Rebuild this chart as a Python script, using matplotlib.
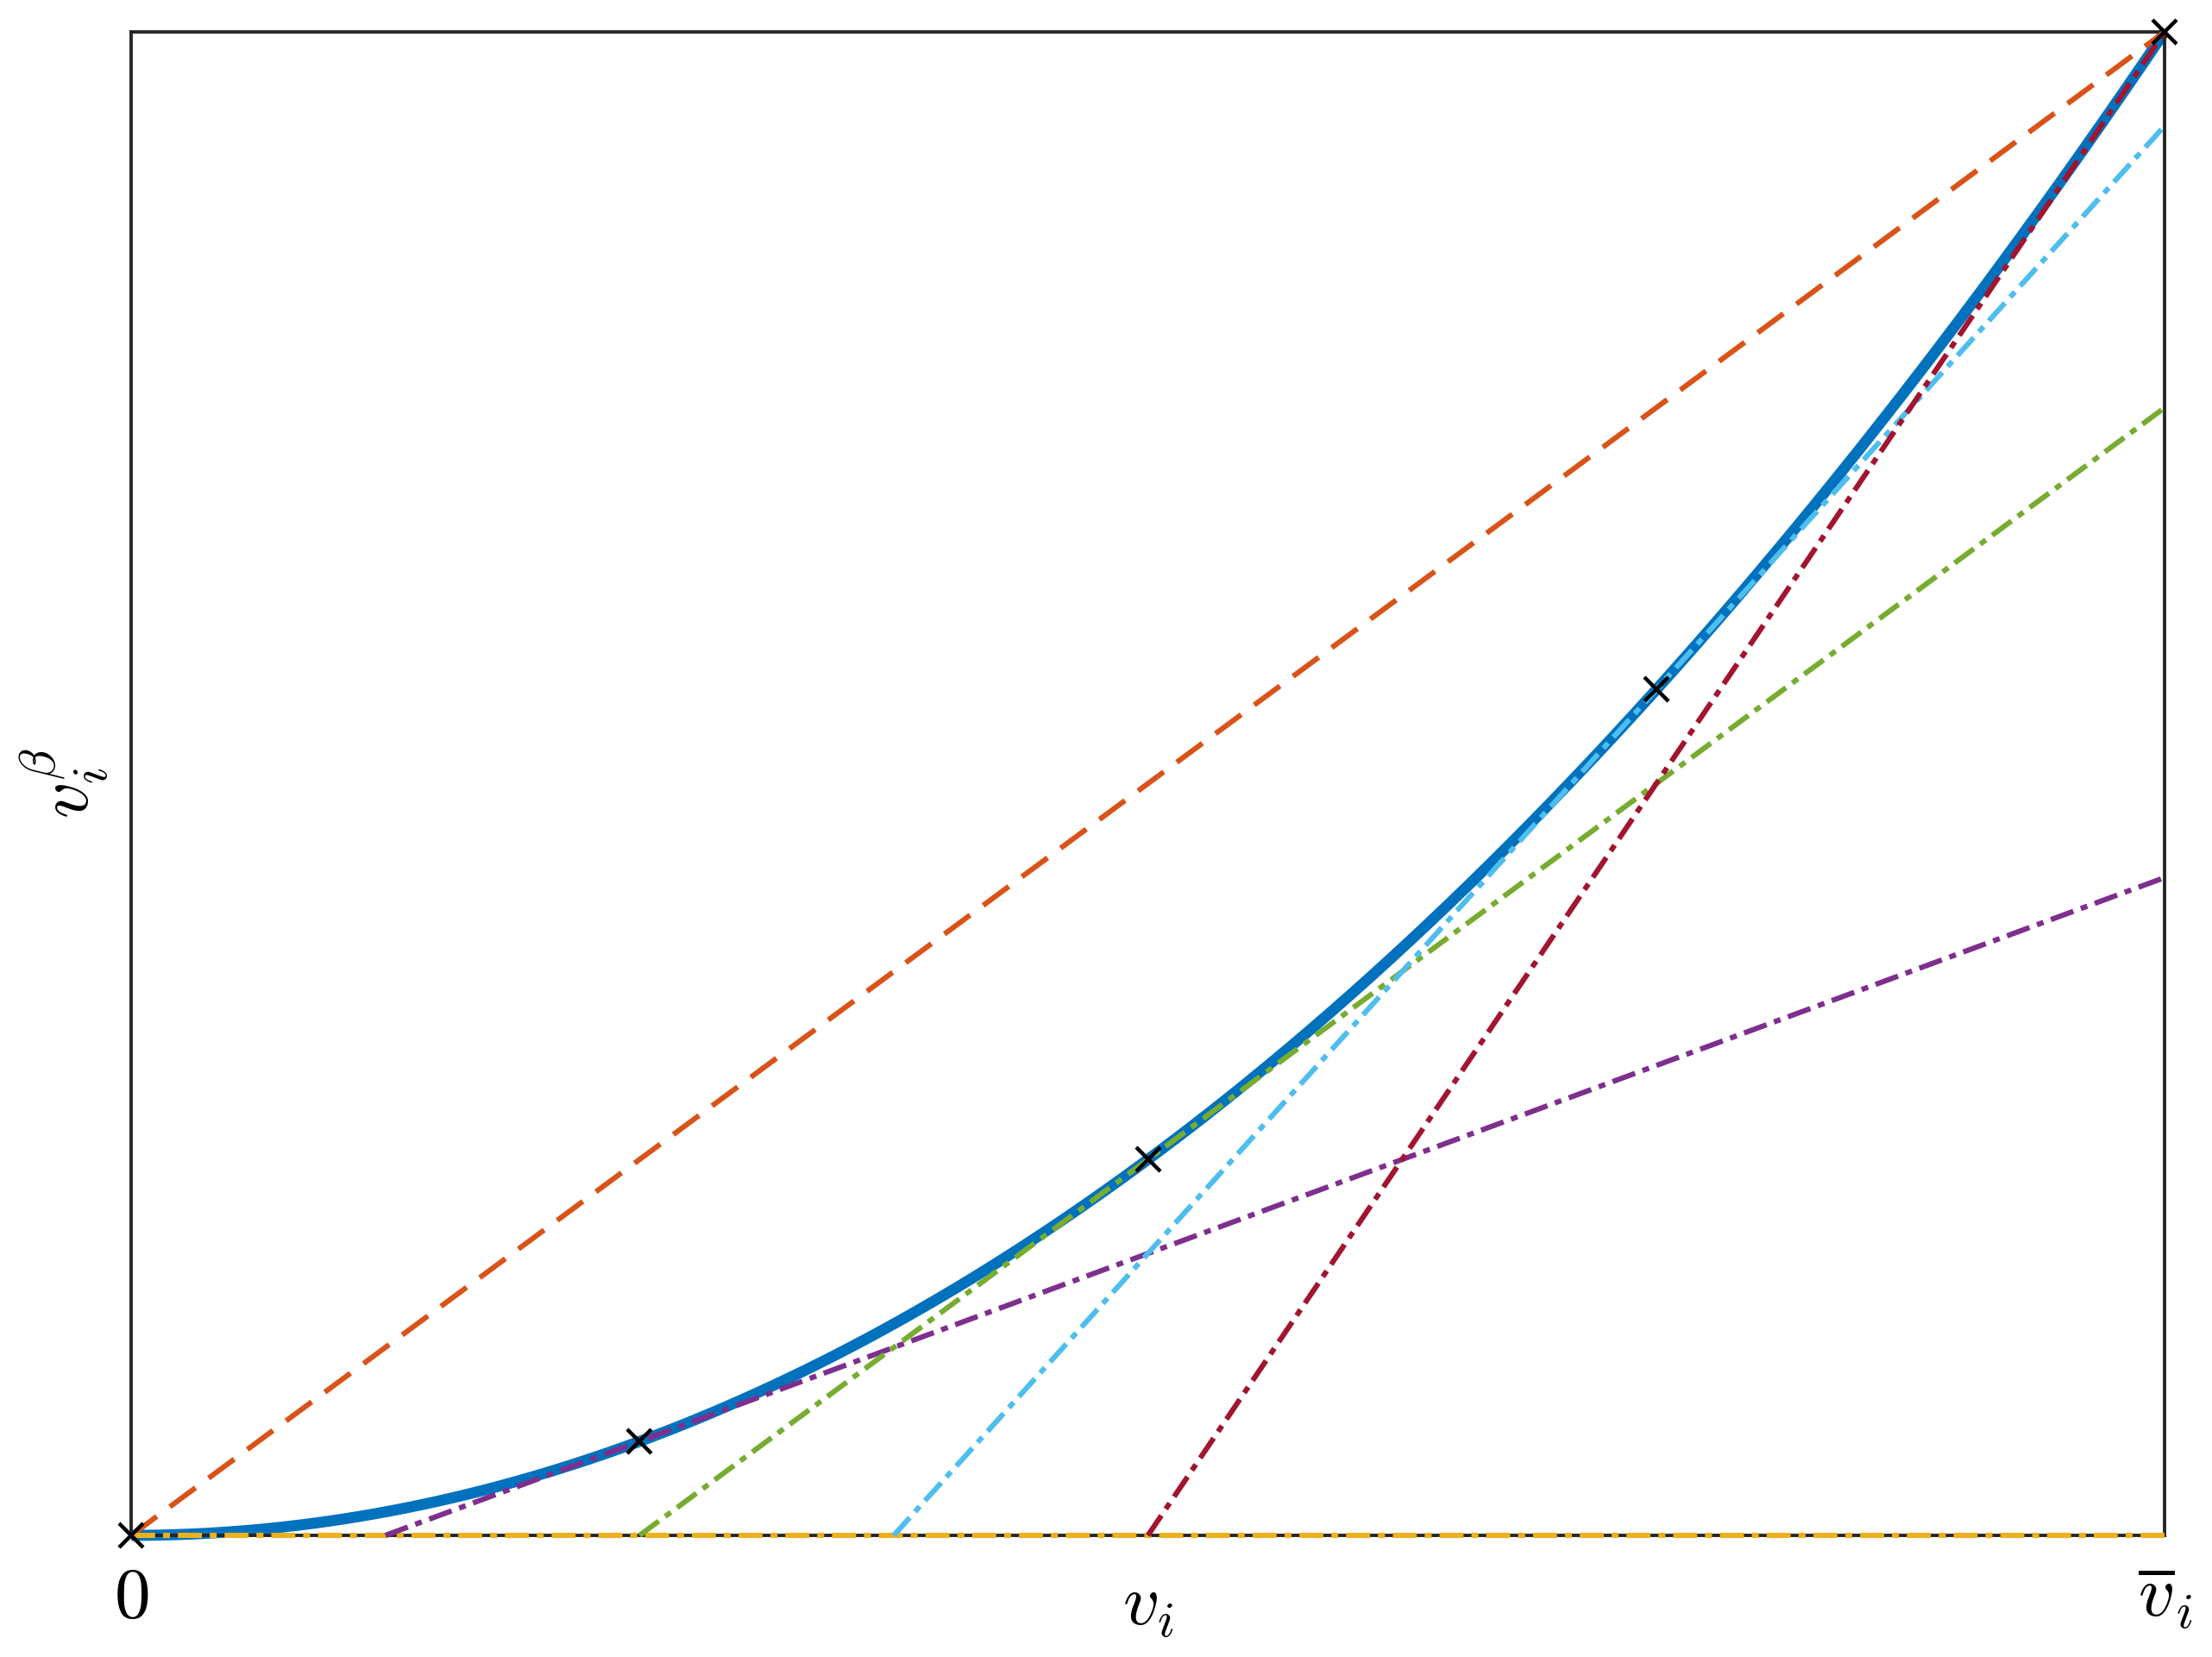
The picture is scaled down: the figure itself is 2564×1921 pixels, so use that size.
import matplotlib
matplotlib.use("Agg")
import matplotlib.pyplot as plt
import numpy as np

# curve v^beta on [0, v_bar], tangents at a few marked points
beta = 2.0
v_bar = 1.0
tangent_points = [0.0, 0.25, 0.5, 0.75, 1.0]
tangent_colors = ['#EDB120', '#7E2F8E', '#77AC30', '#4DBEEE', '#A2142F']
curve_color = '#0072BD'
chord_color = '#D95319'

plt.rcParams['mathtext.fontset'] = 'cm'
plt.rcParams['lines.scale_dashes'] = False

fig = plt.figure(figsize=(12.82, 9.605), dpi=200)
ax = fig.add_axes([0.0593, 0.0734, 0.9786 - 0.0593, 0.9808 - 0.0734])

v = np.linspace(0, v_bar, 400)
ax.plot(v, v ** beta, color=curve_color, lw=4.6, zorder=2, clip_on=False,
        solid_capstyle='butt')

# chord from (0,0) to (v_bar, v_bar^beta)
ax.plot([0, v_bar], [0, v_bar ** beta], color=chord_color, lw=2.2,
        dashes=(13.3, 6.8), zorder=3, clip_on=False)

dashdot = (10.0, 3.3, 2.9, 3.3)
for p, c in zip(tangent_points, tangent_colors):
    slope = beta * p ** (beta - 1)
    icpt = p ** beta - slope * p
    x0 = -icpt / slope if slope > 0 else 0.0
    x0 = max(0.0, x0)
    xs = np.array([x0, v_bar])
    ax.plot(xs, icpt + slope * xs, color=c, lw=2.2, dashes=dashdot,
            zorder=3, clip_on=False)

pts = np.array(tangent_points)
ax.plot(pts, pts ** beta, 'x', color='black', ms=10, mew=1.6,
        zorder=5, clip_on=False, linestyle='none')

ax.set_xlim(0, v_bar)
ax.set_ylim(0, v_bar ** beta)
ax.set_xticks([0, v_bar])
ax.set_xticklabels(['$0$', r'$\overline{v}_i$'], fontsize=30)
ax.set_yticks([])
ax.tick_params(axis='x', length=0, pad=11)
ax.set_xlabel('$v_i$', fontsize=30)
ax.xaxis.set_label_coords(0.5, -0.023, transform=ax.transAxes)
ax.xaxis.label.set_va('top')
ax.set_ylabel(r'$v_i^\beta$', fontsize=30, va='center')
ax.yaxis.set_label_coords(-0.033, 0.5)
for s in ax.spines.values():
    s.set_linewidth(1.4)
    s.set_color('#262626')
    s.set_zorder(2.5)

fig.savefig('out.png', dpi=200)
